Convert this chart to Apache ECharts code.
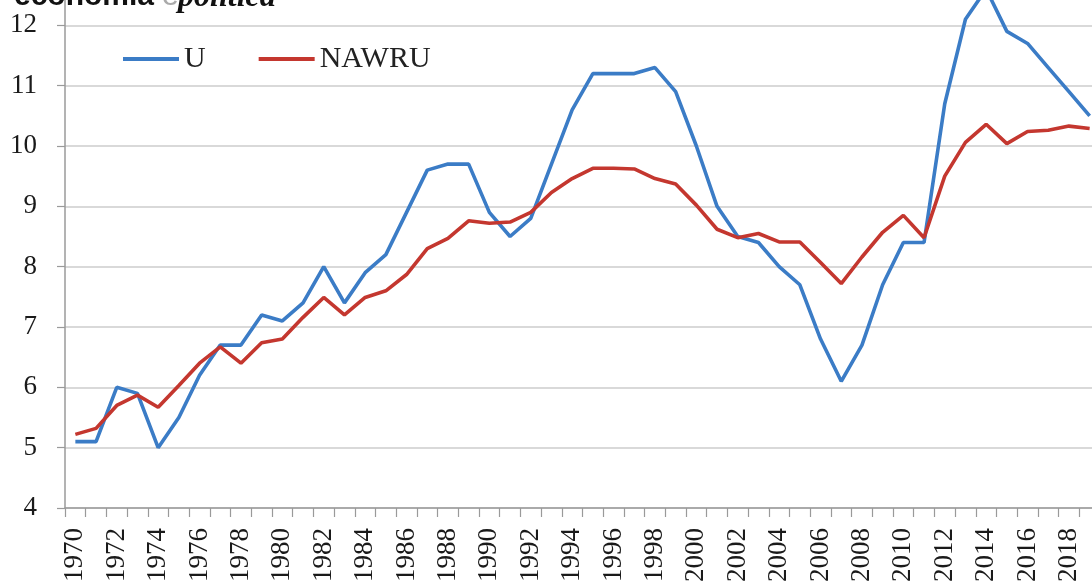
<!DOCTYPE html>
<html>
<head>
<meta charset="utf-8">
<style>html,body{margin:0;padding:0;background:#fff}#c{width:1092px;height:588px}</style>
<script src="https://cdn.jsdelivr.net/npm/echarts@6/dist/echarts.min.js"></script>
</head>
<body>
<div id="c"></div>
<script>
var years = [];
for (var y = 1970; y <= 2019; y++) years.push(String(y));
var uValues = [5.1,5.1,6.0,5.9,5.0,5.5,6.2,6.7,6.7,7.2,
               7.1,7.4,8.0,7.4,7.9,8.2,8.9,9.6,9.7,9.7,
               8.9,8.5,8.8,9.7,10.6,11.2,11.2,11.2,11.3,10.9,
               10.0,9.0,8.5,8.4,8.0,7.7,6.8,6.1,6.7,7.7,
               8.4,8.4,10.7,12.1,12.6,11.9,11.7,11.3,10.9,10.5];
var nawruValues = [5.22,5.32,5.7,5.87,5.67,6.03,6.4,6.67,6.4,6.74,
                   6.8,7.16,7.49,7.2,7.49,7.6,7.87,8.3,8.47,8.76,
                   8.72,8.74,8.9,9.23,9.46,9.63,9.63,9.62,9.46,9.37,
                   9.02,8.62,8.48,8.55,8.41,8.41,8.07,7.72,8.16,8.57,
                   8.85,8.48,9.5,10.06,10.36,10.04,10.24,10.26,10.33,10.29];
var seriesNames = ['U', 'NAWRU'];

var chart = echarts.init(document.getElementById('c'));
var serif = '"Liberation Serif", "Times New Roman", serif';
chart.setOption({
  animation: false,
  backgroundColor: '#fff',
  grid: {left: 65, right: -8, top: -35, bottom: 80, containLabel: false, outerBoundsMode: 'none'},
  legend: {
    left: 118, top: 39, itemWidth: 56, itemHeight: 4, itemGap: 53, icon: 'rect',
    data: seriesNames,
    textStyle: {fontFamily: serif, fontSize: 30, color: '#222'}
  },
  xAxis: {
    type: 'category', data: years, boundaryGap: true,
    axisLine: {lineStyle: {color: '#9a9a9a', width: 1.5}},
    axisTick: {show: true, interval: 0, length: 9, lineStyle: {color: '#9a9a9a', width: 1.2}},
    axisLabel: {interval: 1, rotate: 90, margin: 20, fontFamily: serif, fontSize: 27, color: '#1a1a1a'},
    splitLine: {show: false}
  },
  yAxis: {
    type: 'value', min: 4, max: 13, interval: 1,
    axisLine: {show: true, lineStyle: {color: '#9a9a9a', width: 1.5}},
    axisTick: {show: true, length: 8, lineStyle: {color: '#9a9a9a', width: 1.2}},
    axisLabel: {margin: 28, fontFamily: serif, fontSize: 27, color: '#1a1a1a'},
    splitLine: {lineStyle: {color: '#cdcdcd', width: 1.5}}
  },
  series: [
    {name: seriesNames[0], type: 'line', data: uValues, showSymbol: false, symbol: 'none',
     lineStyle: {color: '#3b7cc6', width: 3.6}, itemStyle: {color: '#3b7cc6'}},
    {name: seriesNames[1], type: 'line', data: nawruValues, showSymbol: false, symbol: 'none',
     lineStyle: {color: '#c4372f', width: 3.6}, itemStyle: {color: '#c4372f'}}
  ],
  graphic: [
    {type: 'text', left: 14, top: -18, style: {text: 'economia', font: 'bold 30px "Liberation Sans", Arial, sans-serif', fill: '#111'}},
    {type: 'text', left: 162, top: -18, style: {text: 'e', font: '30px "Liberation Sans", Arial, sans-serif', fill: '#aaa'}},
    {type: 'text', left: 178, top: -18, style: {text: 'politica', font: 'italic bold 32px "Liberation Serif", serif', fill: '#111'}}
  ]
});
</script>
</body>
</html>
